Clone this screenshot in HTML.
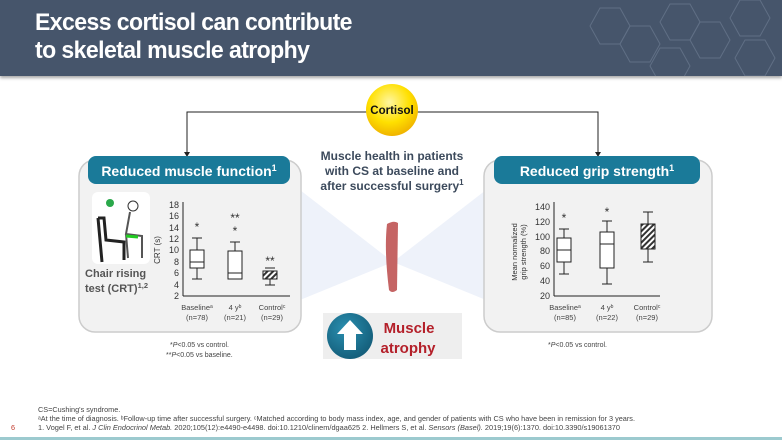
<!DOCTYPE html>
<html><head><meta charset="utf-8"><style>
body{margin:0;width:782px;height:440px;overflow:hidden;background:#fff;font-family:"Liberation Sans",sans-serif;position:relative}
.a{position:absolute}
</style></head><body>
<div class="a" style="left:0;top:0;width:782px;height:76px;background:#46556b;box-shadow:0 2px 3px rgba(0,0,0,.35)"></div>
<svg class="a" style="left:500px;top:0" width="282" height="76" viewBox="0 0 282 76"><g fill="none" stroke="#6b7a90" stroke-width="1" opacity=".7">
<polygon points="100,8 120,8 130,26 120,44 100,44 90,26"/><polygon points="130,26 150,26 160,44 150,62 130,62 120,44"/><polygon points="170,4 190,4 200,22 190,40 170,40 160,22"/><polygon points="200,22 220,22 230,40 220,58 200,58 190,40"/><polygon points="240,0 260,0 270,18 260,36 240,36 230,18"/><polygon points="245,40 265,40 275,58 265,76 245,76 235,58"/><polygon points="160,48 180,48 190,66 180,84 160,84 150,66"/></g></svg>
<div class="a" style="left:35px;top:9px;color:#fff;font-weight:bold;font-size:24px;line-height:28px;letter-spacing:-0.6px;transform:scaleX(.96);transform-origin:left;white-space:nowrap">Excess cortisol can contribute<br>to skeletal muscle atrophy</div>

<svg class="a" style="left:0;top:0" width="782" height="440" viewBox="0 0 782 440" font-family="Liberation Sans, sans-serif">
<defs><radialGradient id="yg" cx=".45" cy=".35" r=".65"><stop offset="0" stop-color="#fff6a0"/><stop offset=".6" stop-color="#ffe000"/><stop offset="1" stop-color="#f0b400"/></radialGradient>
<pattern id="h" width="4" height="4" patternUnits="userSpaceOnUse" patternTransform="rotate(45)"><rect width="4" height="4" fill="#fff"/><rect width="2" height="4" fill="#333"/></pattern>
<radialGradient id="bg" cx=".4" cy=".35" r=".7"><stop offset="0" stop-color="#2a8fb0"/><stop offset="1" stop-color="#135c78"/></radialGradient></defs>
<polygon points="300,190 393,262 300,300" fill="#eef2fa"/>
<polygon points="486,190 393,262 486,300" fill="#eef2fa"/>
<polyline points="187,153 187,112 598,112 598,153" fill="none" stroke="#222" stroke-width="1"/>
<polygon points="184,152 190,152 187,157" fill="#222"/><polygon points="595,152 601,152 598,157" fill="#222"/>
<circle cx="392" cy="110" r="26" fill="url(#yg)"/>
<text x="392" y="114" text-anchor="middle" font-size="11.5" font-weight="bold" fill="#111">Cortisol</text>
<rect x="79" y="160" width="222" height="172" rx="16" fill="#f2f2f2" stroke="#ccc" stroke-width="1.5"/>
<rect x="484" y="160" width="228" height="172" rx="16" fill="#f2f2f2" stroke="#ccc" stroke-width="1.5"/>
<rect x="88" y="156" width="202" height="28" rx="8" fill="#1a7a99"/>
<rect x="494" y="156" width="206" height="28" rx="8" fill="#1a7a99"/>
<text x="189" y="176" text-anchor="middle" font-size="14" font-weight="bold" fill="#fff">Reduced muscle function<tspan font-size="9" dy="-5">1</tspan></text>
<text x="597" y="176" text-anchor="middle" font-size="14" font-weight="bold" fill="#fff">Reduced grip strength<tspan font-size="9" dy="-5">1</tspan></text>
<rect x="92" y="192" width="58" height="72" rx="6" fill="#fff"/>
<circle cx="110" cy="203" r="4" fill="#2aa84a"/>
<path d="M98,218 L104,218 L106,240 L124,242 L124,260 M100,240 L102,262 M98,218 L100,240" fill="none" stroke="#222" stroke-width="3"/>
<circle cx="133" cy="206" r="5" fill="none" stroke="#333"/>
<path d="M130,212 L126,234 L142,236 L142,258 M126,234 L128,258" fill="none" stroke="#555" stroke-width="2"/>
<line x1="126" y1="236" x2="138" y2="237" stroke="#2c2" stroke-width="3"/>
<text x="85" y="277" font-size="11" font-weight="bold" fill="#555">Chair rising</text>
<text x="85" y="292" font-size="11" font-weight="bold" fill="#555">test (CRT)<tspan font-size="7.5" dy="-4">1,2</tspan></text>
<g font-size="9" fill="#333" stroke="none">
<line x1="183" y1="202" x2="183" y2="296" stroke="#222"/><line x1="183" y1="296" x2="290" y2="296" stroke="#222"/>
<g text-anchor="end"><text x="179" y="208">18</text><text x="179" y="219">16</text><text x="179" y="231">14</text><text x="179" y="242">12</text><text x="179" y="253">10</text><text x="179" y="265">8</text><text x="179" y="276">6</text><text x="179" y="288">4</text><text x="179" y="299">2</text></g>
<text transform="translate(160,250) rotate(-90)" text-anchor="middle" font-size="8">CRT (s)</text>
</g>
<g stroke="#222" fill="none" stroke-width="1">
<line x1="197" y1="279" x2="197" y2="268"/><line x1="197" y1="238" x2="197" y2="250"/><line x1="192" y1="279" x2="202" y2="279"/><line x1="192" y1="238" x2="202" y2="238"/>
<rect x="190" y="250" width="14" height="18" fill="#fff"/><line x1="190" y1="262" x2="204" y2="262"/>
<line x1="235" y1="279" x2="235" y2="251"/><line x1="235" y1="242" x2="235" y2="251"/><line x1="230" y1="242" x2="240" y2="242"/>
<rect x="228" y="251" width="14" height="28" fill="#fff"/><line x1="228" y1="273" x2="242" y2="273"/>
<line x1="270" y1="285" x2="270" y2="273"/><line x1="265" y1="285" x2="275" y2="285"/><line x1="265" y1="268" x2="275" y2="268"/>
<rect x="263" y="271" width="14" height="8" fill="url(#h)"/>
</g>
<g font-size="12" fill="#333" text-anchor="middle"><text x="197" y="231">*</text><text x="235" y="222">**</text><text x="235" y="235">*</text><text x="270" y="265">**</text></g>
<g font-size="7.5" fill="#444" text-anchor="middle">
<text x="197" y="310">Baseline<tspan font-size="5" dy="-2">a</tspan></text><text x="197" y="320">(n=78)</text>
<text x="235" y="310">4 y<tspan font-size="5" dy="-2">b</tspan></text><text x="235" y="320">(n=21)</text>
<text x="272" y="310">Control<tspan font-size="5" dy="-2">c</tspan></text><text x="272" y="320">(n=29)</text></g>
<g font-size="9" fill="#333">
<line x1="554" y1="202" x2="554" y2="296" stroke="#222"/><line x1="554" y1="296" x2="660" y2="296" stroke="#222"/>
<g text-anchor="end"><text x="550" y="210">140</text><text x="550" y="225">120</text><text x="550" y="240">100</text><text x="550" y="254">80</text><text x="550" y="269">60</text><text x="550" y="284">40</text><text x="550" y="299">20</text></g>
<text transform="translate(517,252) rotate(-90)" text-anchor="middle" font-size="7.5">Mean normalized</text>
<text transform="translate(526,252) rotate(-90)" text-anchor="middle" font-size="7.5">grip strength (%)</text>
</g>
<g stroke="#222" fill="none">
<line x1="564" y1="274" x2="564" y2="262"/><line x1="564" y1="238" x2="564" y2="229"/><line x1="559" y1="274" x2="569" y2="274"/><line x1="559" y1="229" x2="569" y2="229"/>
<rect x="557" y="238" width="14" height="24" fill="#fff"/><line x1="557" y1="250" x2="571" y2="250"/>
<line x1="607" y1="284" x2="607" y2="268"/><line x1="607" y1="232" x2="607" y2="221"/><line x1="602" y1="284" x2="612" y2="284"/><line x1="602" y1="221" x2="612" y2="221"/>
<rect x="600" y="232" width="14" height="36" fill="#fff"/><line x1="600" y1="244" x2="614" y2="244"/>
<line x1="648" y1="262" x2="648" y2="249"/><line x1="648" y1="224" x2="648" y2="212"/><line x1="643" y1="262" x2="653" y2="262"/><line x1="643" y1="212" x2="653" y2="212"/>
<rect x="641" y="224" width="14" height="25" fill="url(#h)"/>
</g>
<g font-size="12" fill="#333" text-anchor="middle"><text x="564" y="222">*</text><text x="607" y="216">*</text></g>
<g font-size="7.5" fill="#444" text-anchor="middle">
<text x="565" y="310">Baseline<tspan font-size="5" dy="-2">a</tspan></text><text x="565" y="320">(n=85)</text>
<text x="607" y="310">4 y<tspan font-size="5" dy="-2">b</tspan></text><text x="607" y="320">(n=22)</text>
<text x="647" y="310">Control<tspan font-size="5" dy="-2">c</tspan></text><text x="647" y="320">(n=29)</text></g>
<g font-size="12" font-weight="bold" fill="#3c4a5c" text-anchor="middle">
<text x="392" y="160">Muscle health in patients</text><text x="392" y="175">with CS at baseline and</text><text x="392" y="190">after successful surgery<tspan font-size="8" dy="-5">1</tspan></text></g>
<path d="M387,224 Q394,220 398,223 L397,290 Q392,294 389,290 Q384,250 387,224Z" fill="#c56464"/>
<rect x="323" y="313" width="139" height="46" fill="#eeeeee"/>
<circle cx="350" cy="336" r="23" fill="url(#bg)"/>
<polygon points="350,320 363,334 356,334 356,350 344,350 344,334 337,334" fill="#fff"/>
<text x="409" y="333" text-anchor="middle" font-size="15" font-weight="bold" fill="#b4202a">Muscle</text>
<text x="408" y="353" text-anchor="middle" font-size="15" font-weight="bold" fill="#b4202a">atrophy</text>
<g font-size="7" fill="#444"><text x="170" y="347">*<tspan font-style="italic">P</tspan>&lt;0.05 vs control.</text><text x="166" y="357">**<tspan font-style="italic">P</tspan>&lt;0.05 vs baseline.</text>
<text x="548" y="347">*<tspan font-style="italic">P</tspan>&lt;0.05 vs control.</text></g>
<g font-size="7.3" fill="#444"><text x="38" y="412">CS=Cushing's syndrome.</text>
<text x="38" y="421" textLength="597" lengthAdjust="spacingAndGlyphs">ᵃAt the time of diagnosis. ᵇFollow-up time after successful surgery. ᶜMatched according to body mass index, age, and gender of patients with CS who have been in remission for 3 years.</text>
<text x="38" y="430" textLength="582" lengthAdjust="spacingAndGlyphs">1. Vogel F, et al. <tspan font-style="italic">J Clin Endocrinol Metab.</tspan> 2020;105(12):e4490-e4498. doi:10.1210/clinem/dgaa625 2. Hellmers S, et al. <tspan font-style="italic">Sensors (Basel).</tspan> 2019;19(6):1370. doi:10.3390/s19061370</text>
<text x="11" y="430" fill="#c0392b">6</text></g>
<rect x="0" y="437" width="782" height="3" fill="#9ccacf"/>
</svg>
</body></html>
